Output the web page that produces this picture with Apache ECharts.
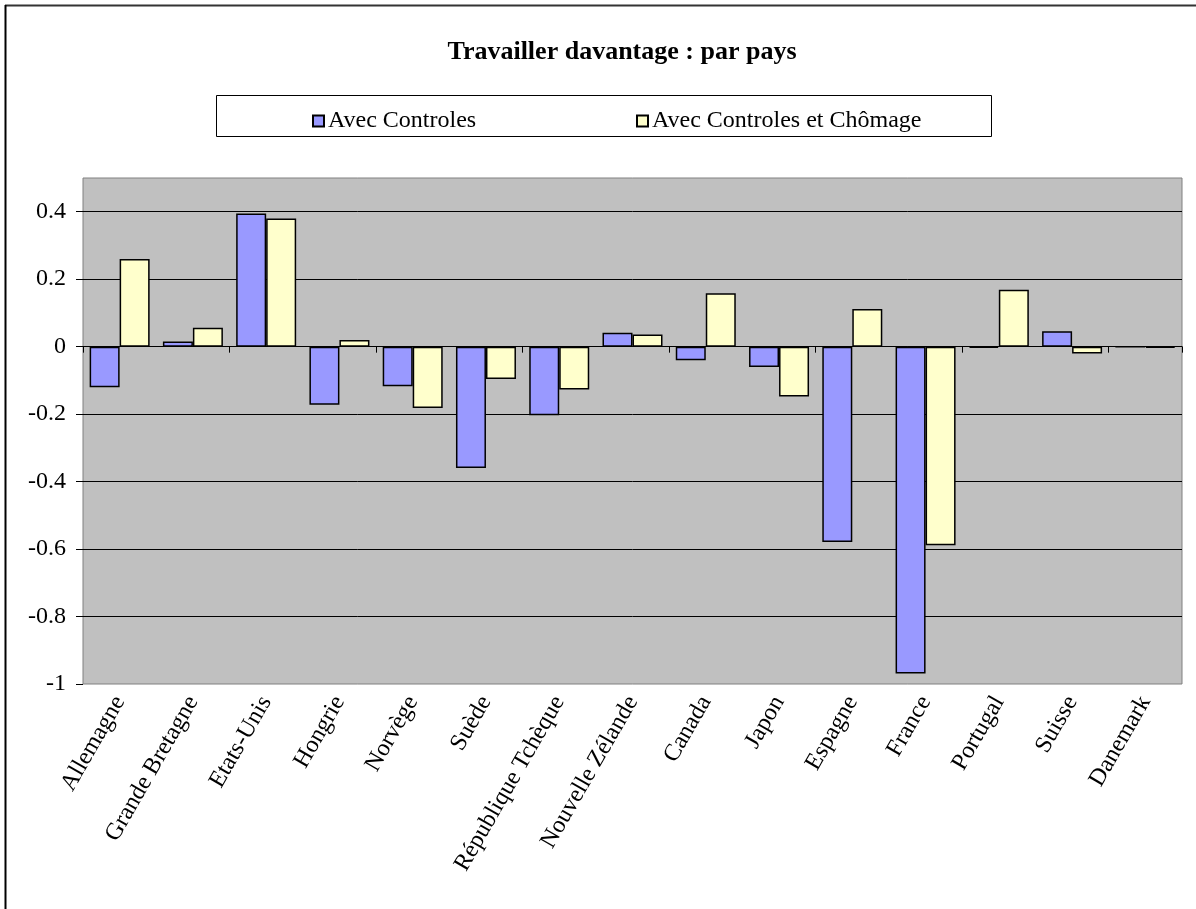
<!DOCTYPE html>
<html>
<head>
<meta charset="utf-8">
<script src="https://cdn.jsdelivr.net/npm/echarts@6/dist/echarts.min.js"></script>
<style>
  html, body { margin: 0; padding: 0; background: #fff; }
  #main { width: 1196px; height: 909px; }
</style>
</head>
<body>
<div id="main"></div>
<script>
// pays
const pays = ['Allemagne', 'Grande Bretagne', 'Etats-Unis', 'Hongrie', 'Norvège', 'Suède',
  'République Tchèque', 'Nouvelle Zélande', 'Canada', 'Japon', 'Espagne', 'France',
  'Portugal', 'Suisse', 'Danemark']

// valeurs
const avecControles = [-0.12, 0.015, 0.395, -0.172, -0.117, -0.36, -0.203, 0.041, -0.04,
  -0.06, -0.579, -0.969, -0.004, 0.046, 0]
const avecControlesChomage = [0.26, 0.056, 0.38, 0.02, -0.182, -0.096, -0.127, 0.036, 0.158,
  -0.148, 0.112, -0.589, 0.169, -0.02, -0.004]

const serif = 'Liberation Serif'

const myChart = echarts.init(document.getElementById('main'))

const option = {
  backgroundColor: '#fff',
  textStyle: { fontFamily: serif, color: '#000' },
  title: {
    text: 'Travailler davantage : par pays',
    left: 617,
    textAlign: 'center',
    top: 34,
    textStyle: { fontFamily: serif, fontSize: 26, fontWeight: 'bold', color: '#000' }
  },
  // deux légendes pour placer chaque entrée comme dans l'original
  legend: [
    {
      data: ['Avec Controles'],
      left: 307,
      top: 104,
      icon: 'rect',
      itemWidth: 11,
      itemHeight: 11,
      itemGap: 5,
      textStyle: { fontFamily: serif, fontSize: 24, color: '#000', padding: [0, 0, 0, -1] }
    },
    {
      data: ['Avec Controles et Chômage'],
      left: 631,
      top: 104,
      icon: 'rect',
      itemWidth: 11,
      itemHeight: 11,
      itemGap: 5,
      textStyle: { fontFamily: serif, fontSize: 24, color: '#000', padding: [0, 0, 0, -1] }
    }
  ],
  graphic: [
    // cadre extérieur
    { type: 'line', shape: { x1: 5, y1: 5.5, x2: 1196, y2: 5.5 }, style: { stroke: '#333', lineWidth: 2 } },
    { type: 'line', shape: { x1: 5.5, y1: 5, x2: 5.5, y2: 909 }, style: { stroke: '#000', lineWidth: 2 } },
    // boîte de légende
    {
      type: 'rect',
      z: -1,
      shape: { x: 216.5, y: 95.5, width: 775, height: 41 },
      style: { fill: '#fff', stroke: '#000', lineWidth: 1 }
    }
  ],
  grid: {
    left: 83,
    top: 178,
    right: 14,
    bottom: 225,
    show: true,
    backgroundColor: '#c0c0c0',
    borderColor: '#808080',
    borderWidth: 1
  },
  xAxis: [
    {
      type: 'category',
      data: pays,
      position: 'bottom',
      axisLine: { show: false, onZero: false },
      axisTick: { show: false },
      axisLabel: {
        interval: 0,
        rotate: 60,
        margin: 14,
        fontFamily: serif,
        fontSize: 24,
        color: '#000'
      }
    },
    {
      type: 'category',
      data: pays,
      position: 'bottom',
      axisLine: { show: true, onZero: true, lineStyle: { color: '#000', width: 1 } },
      axisTick: { show: true, length: 6, lineStyle: { color: '#000' } },
      axisLabel: { show: false }
    }
  ],
  yAxis: {
    type: 'value',
    min: -1,
    max: 0.5,
    interval: 0.2,
    axisLine: { show: false },
    axisTick: { show: true, length: 7, lineStyle: { color: '#000' } },
    axisLabel: {
      showMaxLabel: false,
      margin: 17,
      fontFamily: serif,
      fontSize: 24,
      color: '#000'
    },
    splitLine: {
      show: true,
      showMinLine: false,
      showMaxLine: false,
      lineStyle: { color: '#000', width: 1 }
    }
  },
  series: [
    {
      name: 'Avec Controles',
      type: 'bar',
      xAxisIndex: 0,
      data: avecControles,
      barWidth: 30,
      barGap: '0%',
      itemStyle: { color: '#9999ff', borderColor: '#000', borderWidth: 1.5 }
    },
    {
      name: 'Avec Controles et Chômage',
      type: 'bar',
      xAxisIndex: 0,
      data: avecControlesChomage,
      barWidth: 30,
      barGap: '0%',
      itemStyle: { color: '#ffffcc', borderColor: '#000', borderWidth: 1.5 }
    }
  ]
}

myChart.setOption(option)
</script>
</body>
</html>
